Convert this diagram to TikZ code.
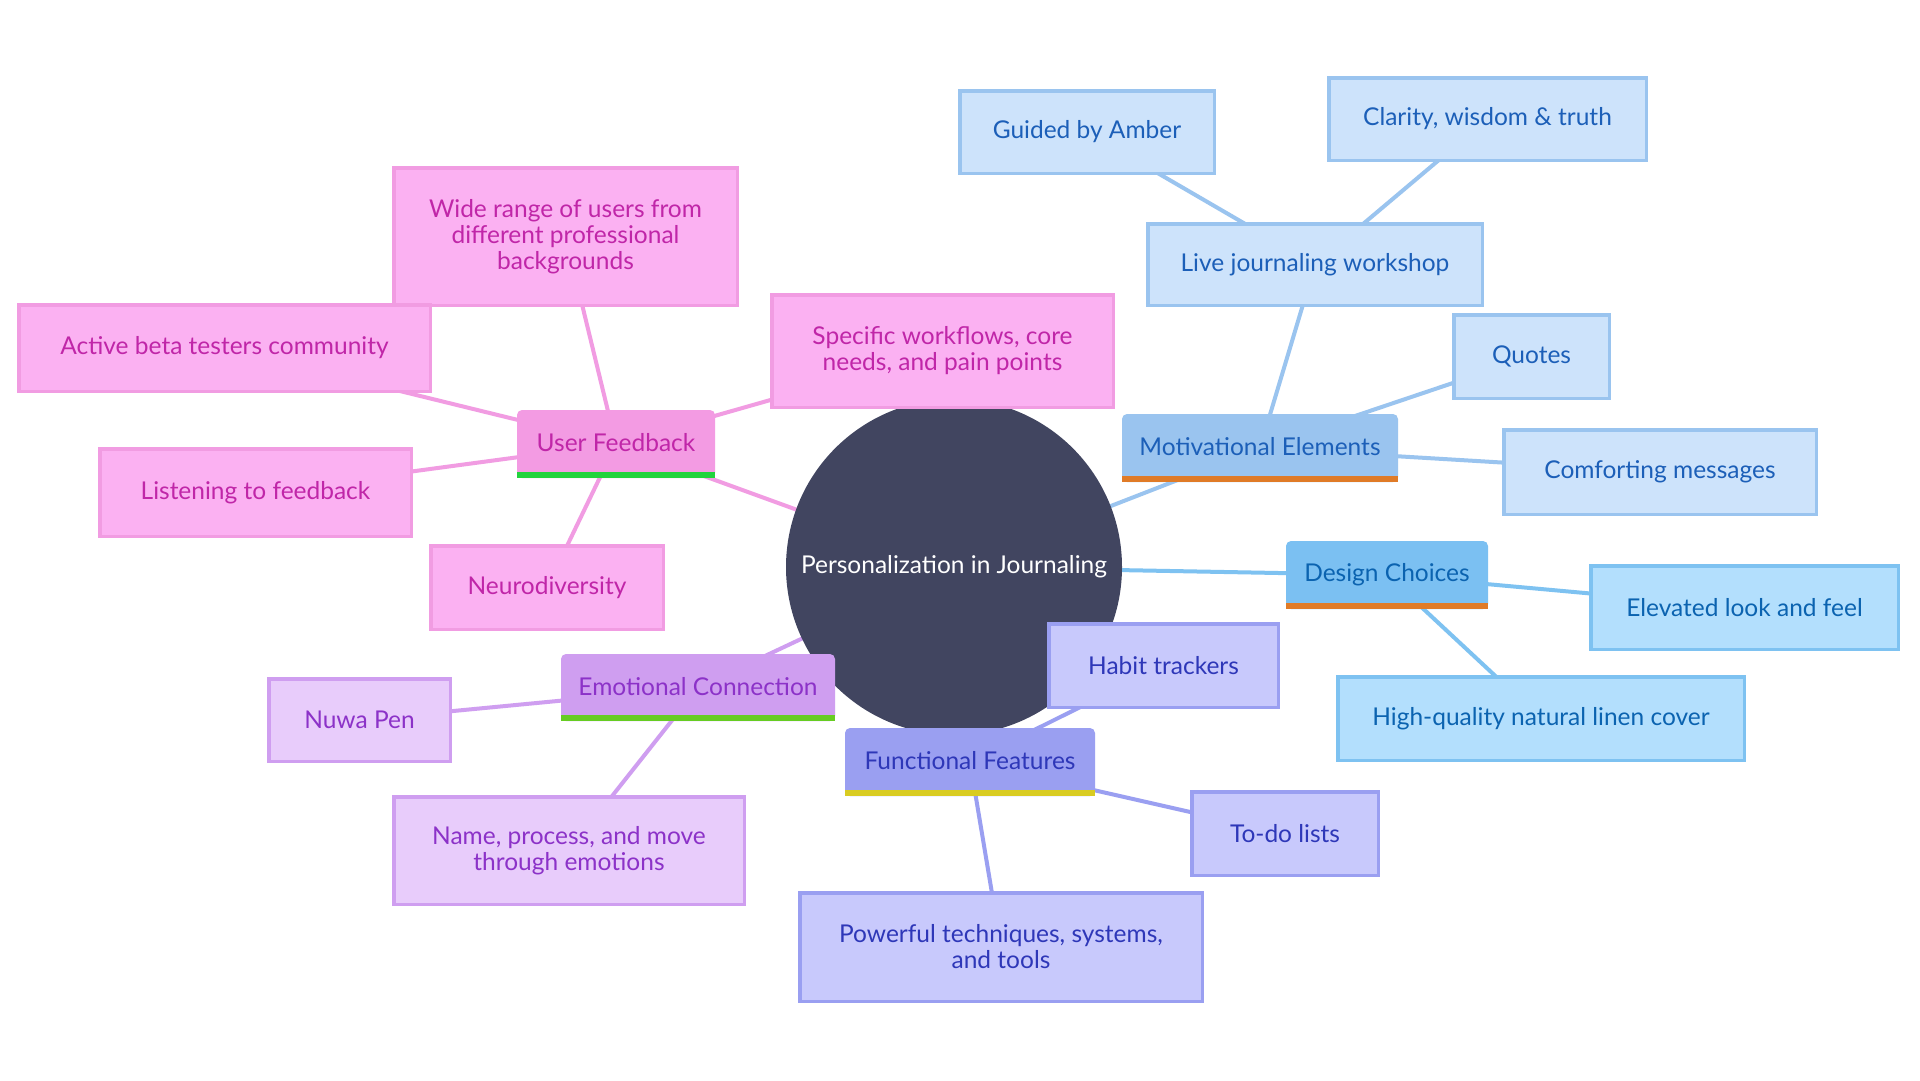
\documentclass[tikz,border=0pt]{standalone}
\usepackage{fontspec}
\setmainfont{Lato}
\usetikzlibrary{backgrounds}
\definecolor{hub}{HTML}{414560}
% pink
\definecolor{pkM}{HTML}{F39BE3}
\definecolor{pkL}{HTML}{FBB1F2}
\definecolor{pkB}{HTML}{F19CE2}
\definecolor{pkT}{HTML}{C026A8}
\definecolor{pkBar}{HTML}{22D33D}
% blue (motivational)
\definecolor{bM}{HTML}{9AC4EF}
\definecolor{bL}{HTML}{CDE3FB}
\definecolor{bB}{HTML}{9AC4EF}
\definecolor{bT}{HTML}{1C5FB8}
\definecolor{orBar}{HTML}{E07B27}
% sky (design)
\definecolor{sM}{HTML}{7BC0F2}
\definecolor{sL}{HTML}{B3DFFD}
\definecolor{sB}{HTML}{7EC2F1}
\definecolor{sT}{HTML}{0B63B0}
% purple (emotional)
\definecolor{uM}{HTML}{CF9EF0}
\definecolor{uL}{HTML}{E8CCFB}
\definecolor{uB}{HTML}{CF9EF0}
\definecolor{uT}{HTML}{8C32C8}
\definecolor{uBar}{HTML}{66CC22}
% indigo (functional)
\definecolor{iM}{HTML}{9A9FF1}
\definecolor{iL}{HTML}{C8C9FC}
\definecolor{iB}{HTML}{9A9FF1}
\definecolor{iT}{HTML}{2E37B8}
\definecolor{yBar}{HTML}{D9CC22}
\newcommand\lblfont{\fontsize{24.5}{26}\selectfont}
\newcommand\mtext[1]{\raisebox{2.5pt}{#1}}
\begin{document}
\begin{tikzpicture}[x=1pt,y=-1pt,
  every node/.style={align=center, inner sep=0pt, font=\lblfont},
  leaf/.style={draw, line width=3.5pt},
  mainbox/.style={rounded corners=5pt},
  link/.style={line width=4pt},
  hubnode/.style={circle, fill=hub, text=white, minimum size=336pt}
]
\useasboundingbox (0,0) rectangle (1920,1080);

\node[hubnode] (hub) at (954,567) {Personalization in Journaling};

% ---- User Feedback branch
\node[mainbox, fill=pkM, text=pkT, minimum width=198pt, minimum height=68pt] (uf) at (616,444) {\mtext{User Feedback}};
\fill[pkBar] ([yshift=6pt]uf.south west) rectangle (uf.south east);
\node[leaf, draw=pkB, fill=pkL, text=pkT, minimum width=343.5pt, minimum height=137.5pt] (wide) at (565.5,236.5) {Wide range of users from\\different professional\\backgrounds};
\node[leaf, draw=pkB, fill=pkL, text=pkT, minimum width=411.5pt, minimum height=86.5pt] (beta) at (224.5,348) {Active beta testers community};
\node[leaf, draw=pkB, fill=pkL, text=pkT, minimum width=311.5pt, minimum height=87.5pt] (listen) at (255.5,492.5) {Listening to feedback};
\node[leaf, draw=pkB, fill=pkL, text=pkT, minimum width=232.5pt, minimum height=83.5pt] (neuro) at (547,587.5) {Neurodiversity};
\node[leaf, draw=pkB, fill=pkL, text=pkT, minimum width=341.5pt, minimum height=112.5pt] (spec) at (942.5,351) {Specific workflows, core\\needs, and pain points};

% ---- Motivational Elements branch
\node[mainbox, fill=bM, text=bT, minimum width=276pt, minimum height=68pt] (mot) at (1260,448) {\mtext{Motivational Elements}};
\fill[orBar] ([yshift=6pt]mot.south west) rectangle (mot.south east);
\node[leaf, draw=bB, fill=bL, text=bT, minimum width=334.5pt, minimum height=81.5pt] (live) at (1315,264.5) {Live journaling workshop};
\node[leaf, draw=bB, fill=bL, text=bT, minimum width=254.5pt, minimum height=82.5pt] (amber) at (1087,132) {Guided by Amber};
\node[leaf, draw=bB, fill=bL, text=bT, minimum width=317.5pt, minimum height=82.5pt] (clar) at (1487.5,119) {Clarity, wisdom \& truth};
\node[leaf, draw=bB, fill=bL, text=bT, minimum width=155.5pt, minimum height=83.5pt] (quot) at (1531.5,356.5) {Quotes};
\node[leaf, draw=bB, fill=bL, text=bT, minimum width=312.5pt, minimum height=84.5pt] (comf) at (1660,472) {Comforting messages};

% ---- Design Choices branch
\node[mainbox, fill=sM, text=sT, minimum width=202pt, minimum height=68pt] (des) at (1387,575) {\mtext{Design Choices}};
\fill[orBar] ([yshift=6pt]des.south west) rectangle (des.south east);
\node[leaf, draw=sB, fill=sL, text=sT, minimum width=307.5pt, minimum height=83.5pt] (elev) at (1744.5,607.5) {Elevated look and feel};
\node[leaf, draw=sB, fill=sL, text=sT, minimum width=406.5pt, minimum height=83.5pt] (linen) at (1541,718.5) {High-quality natural linen cover};

% ---- Emotional Connection branch
\node[mainbox, fill=uM, text=uT, minimum width=274pt, minimum height=67pt] (emo) at (698,687.5) {\mtext{Emotional Connection}};
\fill[uBar] ([yshift=6pt]emo.south west) rectangle (emo.south east);
\node[leaf, draw=uB, fill=uL, text=uT, minimum width=181.5pt, minimum height=82.5pt] (nuwa) at (359.5,720) {Nuwa Pen};
\node[leaf, draw=uB, fill=uL, text=uT, minimum width=350.5pt, minimum height=107.5pt] (name) at (569,850.5) {Name, process, and move\\through emotions};

% ---- Functional Features branch
\node[leaf, draw=iB, fill=iL, text=iT, minimum width=229.5pt, minimum height=83.5pt] (habit) at (1163.5,665.5) {Habit trackers};
\node[mainbox, fill=iM, text=iT, minimum width=250pt, minimum height=68pt] (fun) at (970,762) {\mtext{Functional Features}};
\fill[yBar] ([yshift=6pt]fun.south west) rectangle (fun.south east);
\node[leaf, draw=iB, fill=iL, text=iT, minimum width=186.5pt, minimum height=83.5pt] (todo) at (1285,833.5) {To-do lists};
\node[leaf, draw=iB, fill=iL, text=iT, minimum width=402.5pt, minimum height=108.5pt] (pow) at (1001,947) {Powerful techniques, systems,\\and tools};

\begin{pgfonlayer}{background}
\fill[white] (0,0) rectangle (1920,1080);
\draw[link, pkB] (hub.center) -- (uf.center);
\draw[link, pkB] (uf.center) -- (wide.center);
\draw[link, pkB] (uf.center) -- (beta.center);
\draw[link, pkB] (uf.center) -- (listen.center);
\draw[link, pkB] (uf.center) -- (neuro.center);
\draw[link, pkB] (uf.center) -- (spec.center);
\draw[link, bB] (hub.center) -- (mot.center);
\draw[link, bB] (mot.center) -- (live.center);
\draw[link, bB] (mot.center) -- (quot.center);
\draw[link, bB] (mot.center) -- (comf.center);
\draw[link, bB] (live.center) -- (amber.center);
\draw[link, bB] (live.center) -- (clar.center);
\draw[link, sB] (hub.center) -- (des.center);
\draw[link, sB] (des.center) -- (elev.center);
\draw[link, sB] (des.center) -- (linen.center);
\draw[link, uB] (hub.center) -- (emo.center);
\draw[link, uB] (emo.center) -- (nuwa.center);
\draw[link, uB] (emo.center) -- (name.center);
\draw[link, iB] (hub.center) -- (fun.center);
\draw[link, iB] (fun.center) -- (habit.center);
\draw[link, iB] (fun.center) -- (todo.center);
\draw[link, iB] (fun.center) -- (pow.center);
\end{pgfonlayer}
\end{tikzpicture}
\end{document}
